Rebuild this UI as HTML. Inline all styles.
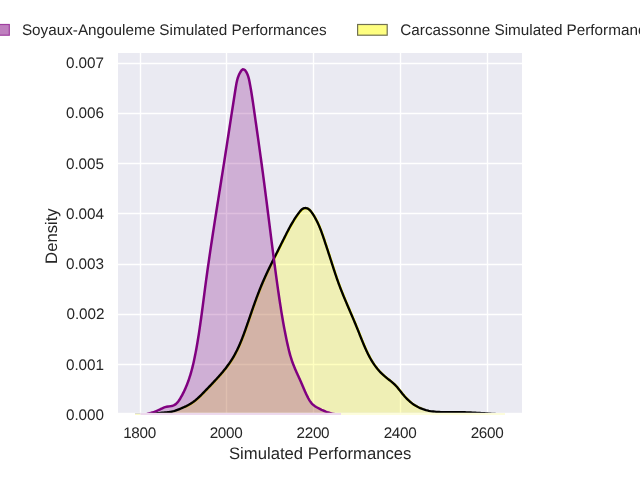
<!DOCTYPE html>
<html><head><meta charset="utf-8"><style>
html,body{margin:0;padding:0;background:#fff;width:640px;height:480px;overflow:hidden}
svg{display:block;will-change:transform}
text{font-family:"Liberation Sans",sans-serif;fill:#262626;text-rendering:geometricPrecision}
</style></head><body>
<svg width="640" height="480" viewBox="0 0 640 480">
<defs><clipPath id="fr"><rect x="118" y="53" width="404" height="355"/></clipPath><clipPath id="ax"><rect x="118" y="53" width="404" height="359.8"/></clipPath></defs>
<rect x="118" y="53" width="404" height="359.8" fill="#EAEAF2"/>
<g stroke="#fff" stroke-width="1.39" fill="none"><line x1="140.50" y1="53.00" x2="140.50" y2="412.80"/><line x1="226.50" y1="53.00" x2="226.50" y2="412.80"/><line x1="313.50" y1="53.00" x2="313.50" y2="412.80"/><line x1="400.50" y1="53.00" x2="400.50" y2="412.80"/><line x1="487.50" y1="53.00" x2="487.50" y2="412.80"/><line x1="118.00" y1="63.50" x2="522.00" y2="63.50"/><line x1="118.00" y1="113.50" x2="522.00" y2="113.50"/><line x1="118.00" y1="163.50" x2="522.00" y2="163.50"/><line x1="118.00" y1="213.50" x2="522.00" y2="213.50"/><line x1="118.00" y1="264.50" x2="522.00" y2="264.50"/><line x1="118.00" y1="314.50" x2="522.00" y2="314.50"/><line x1="118.00" y1="364.50" x2="522.00" y2="364.50"/></g>
<g clip-path="url(#ax)">
<path d="M120.00,415.60 L121.52,415.74 L123.05,415.85 L124.56,415.93 L126.08,415.98 L127.59,416.00 L129.10,416.00 L130.60,415.97 L132.10,415.92 L133.60,415.85 L135.10,415.76 L136.60,415.65 L138.09,415.53 L139.59,415.39 L141.08,415.24 L142.57,415.08 L144.06,414.91 L145.56,414.73 L147.05,414.54 L148.54,414.35 L150.03,414.16 L151.52,413.97 L153.02,413.78 L154.51,413.59 L156.01,413.40 L157.50,413.22 L159.00,413.05 L160.50,412.89 L162.01,412.74 L163.51,412.60 L165.02,412.46 L166.53,412.33 L168.03,412.18 L169.52,412.00 L171.00,411.77 L172.46,411.48 L173.89,411.13 L175.31,410.69 L176.71,410.18 L178.11,409.64 L179.51,409.08 L180.91,408.50 L182.31,407.91 L183.71,407.29 L185.10,406.65 L186.47,405.99 L187.82,405.29 L189.15,404.56 L190.44,403.78 L191.70,402.97 L192.93,402.12 L194.13,401.23 L195.30,400.30 L196.44,399.35 L197.57,398.37 L198.67,397.37 L199.76,396.34 L200.84,395.30 L201.90,394.24 L202.96,393.17 L204.01,392.10 L205.05,391.01 L206.10,389.92 L207.15,388.84 L208.20,387.75 L209.25,386.66 L210.29,385.57 L211.34,384.47 L212.38,383.38 L213.42,382.28 L214.46,381.17 L215.49,380.06 L216.52,378.95 L217.54,377.83 L218.55,376.71 L219.55,375.58 L220.55,374.44 L221.53,373.30 L222.50,372.15 L223.46,370.99 L224.41,369.82 L225.35,368.65 L226.27,367.46 L227.17,366.26 L228.06,365.06 L228.94,363.84 L229.79,362.61 L230.63,361.37 L231.45,360.12 L232.25,358.85 L233.02,357.57 L233.78,356.28 L234.52,354.98 L235.24,353.66 L235.93,352.33 L236.62,350.99 L237.28,349.65 L237.93,348.29 L238.56,346.92 L239.18,345.55 L239.79,344.17 L240.38,342.78 L240.96,341.38 L241.53,339.98 L242.09,338.58 L242.63,337.17 L243.17,335.75 L243.70,334.34 L244.23,332.92 L244.74,331.49 L245.26,330.07 L245.76,328.65 L246.26,327.23 L246.76,325.80 L247.25,324.38 L247.75,322.96 L248.24,321.54 L248.72,320.12 L249.21,318.70 L249.70,317.28 L250.18,315.86 L250.67,314.44 L251.16,313.02 L251.64,311.61 L252.13,310.19 L252.63,308.77 L253.12,307.36 L253.62,305.94 L254.12,304.52 L254.63,303.11 L255.14,301.69 L255.65,300.28 L256.17,298.86 L256.69,297.45 L257.22,296.04 L257.76,294.63 L258.29,293.22 L258.84,291.82 L259.39,290.41 L259.95,289.01 L260.51,287.61 L261.08,286.22 L261.66,284.82 L262.24,283.43 L262.83,282.05 L263.42,280.67 L264.03,279.29 L264.64,277.92 L265.26,276.55 L265.88,275.18 L266.51,273.82 L267.15,272.46 L267.79,271.10 L268.43,269.74 L269.09,268.39 L269.74,267.04 L270.40,265.69 L271.06,264.34 L271.73,262.99 L272.39,261.64 L273.06,260.29 L273.74,258.95 L274.41,257.60 L275.09,256.25 L275.76,254.90 L276.44,253.55 L277.12,252.20 L277.80,250.85 L278.47,249.50 L279.15,248.14 L279.83,246.79 L280.50,245.43 L281.18,244.08 L281.85,242.73 L282.53,241.38 L283.20,240.03 L283.88,238.69 L284.55,237.35 L285.22,236.01 L285.90,234.67 L286.57,233.34 L287.25,232.01 L287.94,230.69 L288.63,229.37 L289.33,228.05 L290.04,226.74 L290.77,225.43 L291.50,224.13 L292.26,222.83 L293.03,221.54 L293.81,220.25 L294.62,218.96 L295.45,217.68 L296.31,216.41 L297.19,215.14 L298.09,213.87 L299.03,212.61 L299.99,211.37 L301.01,210.20 L302.10,209.20 L303.28,208.46 L304.57,208.05 L305.92,208.02 L307.26,208.38 L308.54,209.06 L309.71,210.00 L310.73,211.14 L311.65,212.38 L312.53,213.64 L313.36,214.92 L314.17,216.22 L314.94,217.52 L315.67,218.85 L316.38,220.18 L317.06,221.53 L317.72,222.88 L318.35,224.25 L318.96,225.62 L319.54,227.01 L320.11,228.40 L320.66,229.80 L321.19,231.20 L321.72,232.61 L322.22,234.03 L322.72,235.45 L323.21,236.87 L323.70,238.30 L324.18,239.73 L324.65,241.16 L325.12,242.59 L325.60,244.01 L326.07,245.44 L326.54,246.87 L327.01,248.31 L327.48,249.74 L327.95,251.17 L328.41,252.60 L328.88,254.03 L329.35,255.46 L329.81,256.89 L330.27,258.32 L330.73,259.76 L331.19,261.19 L331.65,262.62 L332.11,264.05 L332.57,265.49 L333.03,266.92 L333.49,268.35 L333.96,269.78 L334.42,271.21 L334.89,272.64 L335.37,274.06 L335.84,275.49 L336.33,276.91 L336.81,278.33 L337.31,279.75 L337.81,281.17 L338.32,282.58 L338.83,284.00 L339.36,285.41 L339.89,286.81 L340.43,288.22 L340.97,289.62 L341.52,291.02 L342.08,292.42 L342.64,293.81 L343.21,295.20 L343.78,296.60 L344.36,297.99 L344.94,299.38 L345.52,300.77 L346.11,302.15 L346.70,303.54 L347.29,304.93 L347.88,306.31 L348.47,307.70 L349.07,309.08 L349.66,310.47 L350.25,311.85 L350.84,313.23 L351.44,314.62 L352.03,316.00 L352.62,317.39 L353.20,318.77 L353.79,320.16 L354.38,321.54 L354.96,322.93 L355.54,324.32 L356.11,325.71 L356.68,327.10 L357.25,328.49 L357.82,329.88 L358.38,331.27 L358.94,332.67 L359.49,334.06 L360.04,335.45 L360.60,336.85 L361.15,338.24 L361.71,339.64 L362.27,341.03 L362.84,342.42 L363.41,343.81 L364.00,345.19 L364.59,346.57 L365.19,347.95 L365.81,349.32 L366.43,350.69 L367.08,352.06 L367.74,353.42 L368.41,354.77 L369.11,356.12 L369.82,357.45 L370.56,358.78 L371.32,360.08 L372.10,361.38 L372.90,362.66 L373.73,363.91 L374.58,365.15 L375.47,366.36 L376.38,367.55 L377.31,368.72 L378.27,369.86 L379.26,370.98 L380.28,372.08 L381.32,373.15 L382.38,374.19 L383.48,375.22 L384.60,376.21 L385.75,377.18 L386.92,378.13 L388.11,379.06 L389.30,379.99 L390.49,380.92 L391.67,381.86 L392.83,382.83 L393.96,383.83 L395.04,384.87 L396.08,385.96 L397.08,387.09 L398.04,388.26 L398.99,389.44 L399.93,390.62 L400.87,391.80 L401.82,392.98 L402.77,394.14 L403.74,395.29 L404.72,396.43 L405.72,397.54 L406.75,398.63 L407.81,399.69 L408.90,400.72 L410.02,401.72 L411.19,402.67 L412.39,403.59 L413.63,404.46 L414.91,405.29 L416.22,406.07 L417.55,406.80 L418.91,407.48 L420.28,408.11 L421.68,408.69 L423.09,409.21 L424.51,409.68 L425.94,410.10 L427.39,410.47 L428.84,410.79 L430.30,411.07 L431.77,411.31 L433.25,411.51 L434.74,411.68 L436.23,411.82 L437.73,411.93 L439.23,412.01 L440.74,412.08 L442.25,412.12 L443.77,412.14 L445.28,412.16 L446.80,412.16 L448.32,412.15 L449.84,412.14 L451.36,412.13 L452.87,412.12 L454.39,412.11 L455.90,412.11 L457.41,412.12 L458.92,412.13 L460.43,412.15 L461.93,412.18 L463.43,412.22 L464.93,412.26 L466.43,412.31 L467.92,412.37 L469.42,412.43 L470.91,412.49 L472.41,412.56 L473.90,412.64 L475.39,412.72 L476.89,412.80 L478.38,412.89 L479.87,412.98 L481.37,413.07 L482.86,413.17 L484.36,413.27 L485.86,413.37 L487.36,413.48 L488.86,413.58 L490.36,413.69 L491.86,413.80 L493.37,413.90 L494.88,414.01 L496.38,414.11 L497.89,414.21 L499.40,414.31 L500.91,414.40 L502.42,414.49 L503.93,414.57 L505.44,414.64 L506.95,414.71 L508.46,414.77 L509.96,414.82 L511.47,414.86 L512.98,414.89 L514.49,414.91 L515.99,414.91 L517.50,414.91 L519.00,414.89 L520.50,414.85 L522.00,414.80 L523.50,414.74 L525.00,414.66 L525.00,417.70 L120.00,417.70 Z" fill="#ffff00" fill-opacity="0.25" stroke="none"/>
<path clip-path="url(#fr)" d="M120.00,415.60 L121.52,415.74 L123.05,415.85 L124.56,415.93 L126.08,415.98 L127.59,416.00 L129.10,416.00 L130.60,415.97 L132.10,415.92 L133.60,415.85 L135.10,415.76 L136.60,415.65 L138.09,415.53 L139.59,415.39 L141.08,415.24 L142.57,415.08 L144.06,414.91 L145.56,414.73 L147.05,414.54 L148.54,414.35 L150.03,414.16 L151.52,413.97 L153.02,413.78 L154.51,413.59 L156.01,413.40 L157.50,413.22 L159.00,413.05 L160.50,412.89 L162.01,412.74 L163.51,412.60 L165.02,412.46 L166.53,412.33 L168.03,412.18 L169.52,412.00 L171.00,411.77 L172.46,411.48 L173.89,411.13 L175.31,410.69 L176.71,410.18 L178.11,409.64 L179.51,409.08 L180.91,408.50 L182.31,407.91 L183.71,407.29 L185.10,406.65 L186.47,405.99 L187.82,405.29 L189.15,404.56 L190.44,403.78 L191.70,402.97 L192.93,402.12 L194.13,401.23 L195.30,400.30 L196.44,399.35 L197.57,398.37 L198.67,397.37 L199.76,396.34 L200.84,395.30 L201.90,394.24 L202.96,393.17 L204.01,392.10 L205.05,391.01 L206.10,389.92 L207.15,388.84 L208.20,387.75 L209.25,386.66 L210.29,385.57 L211.34,384.47 L212.38,383.38 L213.42,382.28 L214.46,381.17 L215.49,380.06 L216.52,378.95 L217.54,377.83 L218.55,376.71 L219.55,375.58 L220.55,374.44 L221.53,373.30 L222.50,372.15 L223.46,370.99 L224.41,369.82 L225.35,368.65 L226.27,367.46 L227.17,366.26 L228.06,365.06 L228.94,363.84 L229.79,362.61 L230.63,361.37 L231.45,360.12 L232.25,358.85 L233.02,357.57 L233.78,356.28 L234.52,354.98 L235.24,353.66 L235.93,352.33 L236.62,350.99 L237.28,349.65 L237.93,348.29 L238.56,346.92 L239.18,345.55 L239.79,344.17 L240.38,342.78 L240.96,341.38 L241.53,339.98 L242.09,338.58 L242.63,337.17 L243.17,335.75 L243.70,334.34 L244.23,332.92 L244.74,331.49 L245.26,330.07 L245.76,328.65 L246.26,327.23 L246.76,325.80 L247.25,324.38 L247.75,322.96 L248.24,321.54 L248.72,320.12 L249.21,318.70 L249.70,317.28 L250.18,315.86 L250.67,314.44 L251.16,313.02 L251.64,311.61 L252.13,310.19 L252.63,308.77 L253.12,307.36 L253.62,305.94 L254.12,304.52 L254.63,303.11 L255.14,301.69 L255.65,300.28 L256.17,298.86 L256.69,297.45 L257.22,296.04 L257.76,294.63 L258.29,293.22 L258.84,291.82 L259.39,290.41 L259.95,289.01 L260.51,287.61 L261.08,286.22 L261.66,284.82 L262.24,283.43 L262.83,282.05 L263.42,280.67 L264.03,279.29 L264.64,277.92 L265.26,276.55 L265.88,275.18 L266.51,273.82 L267.15,272.46 L267.79,271.10 L268.43,269.74 L269.09,268.39 L269.74,267.04 L270.40,265.69 L271.06,264.34 L271.73,262.99 L272.39,261.64 L273.06,260.29 L273.74,258.95 L274.41,257.60 L275.09,256.25 L275.76,254.90 L276.44,253.55 L277.12,252.20 L277.80,250.85 L278.47,249.50 L279.15,248.14 L279.83,246.79 L280.50,245.43 L281.18,244.08 L281.85,242.73 L282.53,241.38 L283.20,240.03 L283.88,238.69 L284.55,237.35 L285.22,236.01 L285.90,234.67 L286.57,233.34 L287.25,232.01 L287.94,230.69 L288.63,229.37 L289.33,228.05 L290.04,226.74 L290.77,225.43 L291.50,224.13 L292.26,222.83 L293.03,221.54 L293.81,220.25 L294.62,218.96 L295.45,217.68 L296.31,216.41 L297.19,215.14 L298.09,213.87 L299.03,212.61 L299.99,211.37 L301.01,210.20 L302.10,209.20 L303.28,208.46 L304.57,208.05 L305.92,208.02 L307.26,208.38 L308.54,209.06 L309.71,210.00 L310.73,211.14 L311.65,212.38 L312.53,213.64 L313.36,214.92 L314.17,216.22 L314.94,217.52 L315.67,218.85 L316.38,220.18 L317.06,221.53 L317.72,222.88 L318.35,224.25 L318.96,225.62 L319.54,227.01 L320.11,228.40 L320.66,229.80 L321.19,231.20 L321.72,232.61 L322.22,234.03 L322.72,235.45 L323.21,236.87 L323.70,238.30 L324.18,239.73 L324.65,241.16 L325.12,242.59 L325.60,244.01 L326.07,245.44 L326.54,246.87 L327.01,248.31 L327.48,249.74 L327.95,251.17 L328.41,252.60 L328.88,254.03 L329.35,255.46 L329.81,256.89 L330.27,258.32 L330.73,259.76 L331.19,261.19 L331.65,262.62 L332.11,264.05 L332.57,265.49 L333.03,266.92 L333.49,268.35 L333.96,269.78 L334.42,271.21 L334.89,272.64 L335.37,274.06 L335.84,275.49 L336.33,276.91 L336.81,278.33 L337.31,279.75 L337.81,281.17 L338.32,282.58 L338.83,284.00 L339.36,285.41 L339.89,286.81 L340.43,288.22 L340.97,289.62 L341.52,291.02 L342.08,292.42 L342.64,293.81 L343.21,295.20 L343.78,296.60 L344.36,297.99 L344.94,299.38 L345.52,300.77 L346.11,302.15 L346.70,303.54 L347.29,304.93 L347.88,306.31 L348.47,307.70 L349.07,309.08 L349.66,310.47 L350.25,311.85 L350.84,313.23 L351.44,314.62 L352.03,316.00 L352.62,317.39 L353.20,318.77 L353.79,320.16 L354.38,321.54 L354.96,322.93 L355.54,324.32 L356.11,325.71 L356.68,327.10 L357.25,328.49 L357.82,329.88 L358.38,331.27 L358.94,332.67 L359.49,334.06 L360.04,335.45 L360.60,336.85 L361.15,338.24 L361.71,339.64 L362.27,341.03 L362.84,342.42 L363.41,343.81 L364.00,345.19 L364.59,346.57 L365.19,347.95 L365.81,349.32 L366.43,350.69 L367.08,352.06 L367.74,353.42 L368.41,354.77 L369.11,356.12 L369.82,357.45 L370.56,358.78 L371.32,360.08 L372.10,361.38 L372.90,362.66 L373.73,363.91 L374.58,365.15 L375.47,366.36 L376.38,367.55 L377.31,368.72 L378.27,369.86 L379.26,370.98 L380.28,372.08 L381.32,373.15 L382.38,374.19 L383.48,375.22 L384.60,376.21 L385.75,377.18 L386.92,378.13 L388.11,379.06 L389.30,379.99 L390.49,380.92 L391.67,381.86 L392.83,382.83 L393.96,383.83 L395.04,384.87 L396.08,385.96 L397.08,387.09 L398.04,388.26 L398.99,389.44 L399.93,390.62 L400.87,391.80 L401.82,392.98 L402.77,394.14 L403.74,395.29 L404.72,396.43 L405.72,397.54 L406.75,398.63 L407.81,399.69 L408.90,400.72 L410.02,401.72 L411.19,402.67 L412.39,403.59 L413.63,404.46 L414.91,405.29 L416.22,406.07 L417.55,406.80 L418.91,407.48 L420.28,408.11 L421.68,408.69 L423.09,409.21 L424.51,409.68 L425.94,410.10 L427.39,410.47 L428.84,410.79 L430.30,411.07 L431.77,411.31 L433.25,411.51 L434.74,411.68 L436.23,411.82 L437.73,411.93 L439.23,412.01 L440.74,412.08 L442.25,412.12 L443.77,412.14 L445.28,412.16 L446.80,412.16 L448.32,412.15 L449.84,412.14 L451.36,412.13 L452.87,412.12 L454.39,412.11 L455.90,412.11 L457.41,412.12 L458.92,412.13 L460.43,412.15 L461.93,412.18 L463.43,412.22 L464.93,412.26 L466.43,412.31 L467.92,412.37 L469.42,412.43 L470.91,412.49 L472.41,412.56 L473.90,412.64 L475.39,412.72 L476.89,412.80 L478.38,412.89 L479.87,412.98 L481.37,413.07 L482.86,413.17 L484.36,413.27 L485.86,413.37 L487.36,413.48 L488.86,413.58 L490.36,413.69 L491.86,413.80 L493.37,413.90 L494.88,414.01 L496.38,414.11 L497.89,414.21 L499.40,414.31 L500.91,414.40 L502.42,414.49 L503.93,414.57 L505.44,414.64 L506.95,414.71 L508.46,414.77 L509.96,414.82 L511.47,414.86 L512.98,414.89 L514.49,414.91 L515.99,414.91 L517.50,414.91 L519.00,414.89 L520.50,414.85 L522.00,414.80 L523.50,414.74 L525.00,414.66" fill="none" stroke="#ffff00" stroke-width="2.35" stroke-linejoin="round" transform="translate(0.3,0.2)"/>
<path d="M120.00,415.56 L121.49,415.66 L122.99,415.75 L124.49,415.81 L125.99,415.85 L127.50,415.87 L129.01,415.87 L130.52,415.85 L132.03,415.80 L133.54,415.73 L135.04,415.64 L136.55,415.52 L138.05,415.38 L139.55,415.20 L141.05,415.00 L142.54,414.78 L144.02,414.52 L145.49,414.23 L146.96,413.92 L148.42,413.57 L149.86,413.19 L151.30,412.78 L152.73,412.33 L154.14,411.86 L155.54,411.34 L156.92,410.79 L158.29,410.21 L159.64,409.59 L160.98,408.93 L162.32,408.27 L163.68,407.66 L165.11,407.13 L166.60,406.75 L168.18,406.50 L169.78,406.31 L171.34,406.08 L172.82,405.72 L174.16,405.16 L175.37,404.41 L176.48,403.50 L177.48,402.45 L178.40,401.29 L179.26,400.06 L180.07,398.77 L180.84,397.45 L181.59,396.12 L182.31,394.79 L183.01,393.44 L183.69,392.09 L184.34,390.73 L184.97,389.36 L185.58,387.98 L186.17,386.60 L186.74,385.21 L187.29,383.81 L187.82,382.41 L188.33,381.00 L188.83,379.58 L189.31,378.16 L189.77,376.73 L190.22,375.30 L190.65,373.86 L191.07,372.42 L191.47,370.97 L191.86,369.52 L192.24,368.07 L192.61,366.61 L192.96,365.15 L193.31,363.69 L193.64,362.22 L193.97,360.75 L194.28,359.28 L194.59,357.80 L194.89,356.33 L195.19,354.85 L195.48,353.37 L195.76,351.89 L196.04,350.41 L196.31,348.93 L196.58,347.45 L196.84,345.97 L197.10,344.49 L197.36,343.01 L197.61,341.52 L197.85,340.04 L198.10,338.55 L198.34,337.07 L198.57,335.58 L198.81,334.10 L199.04,332.61 L199.26,331.12 L199.48,329.64 L199.71,328.15 L199.92,326.66 L200.14,325.17 L200.35,323.68 L200.56,322.19 L200.77,320.70 L200.98,319.21 L201.18,317.72 L201.38,316.23 L201.59,314.74 L201.79,313.25 L201.98,311.76 L202.18,310.27 L202.38,308.78 L202.57,307.29 L202.77,305.80 L202.96,304.31 L203.16,302.81 L203.35,301.32 L203.54,299.83 L203.73,298.34 L203.93,296.85 L204.12,295.36 L204.31,293.86 L204.51,292.37 L204.70,290.88 L204.90,289.39 L205.09,287.90 L205.29,286.41 L205.49,284.91 L205.69,283.42 L205.89,281.93 L206.09,280.44 L206.30,278.95 L206.50,277.46 L206.70,275.97 L206.91,274.48 L207.12,272.99 L207.32,271.50 L207.53,270.01 L207.74,268.52 L207.95,267.03 L208.17,265.54 L208.38,264.05 L208.59,262.56 L208.81,261.07 L209.02,259.58 L209.24,258.09 L209.46,256.60 L209.67,255.11 L209.89,253.62 L210.11,252.14 L210.33,250.65 L210.55,249.16 L210.77,247.67 L211.00,246.18 L211.22,244.69 L211.44,243.20 L211.67,241.72 L211.89,240.23 L212.12,238.74 L212.34,237.25 L212.57,235.77 L212.80,234.28 L213.02,232.79 L213.25,231.30 L213.48,229.82 L213.71,228.33 L213.94,226.84 L214.17,225.35 L214.40,223.87 L214.63,222.38 L214.86,220.89 L215.09,219.41 L215.33,217.92 L215.56,216.43 L215.79,214.95 L216.03,213.46 L216.26,211.97 L216.49,210.49 L216.73,209.00 L216.96,207.51 L217.20,206.03 L217.43,204.54 L217.67,203.05 L217.90,201.57 L218.14,200.08 L218.37,198.60 L218.61,197.11 L218.84,195.62 L219.08,194.14 L219.31,192.65 L219.55,191.17 L219.79,189.68 L220.02,188.20 L220.26,186.71 L220.49,185.22 L220.73,183.74 L220.97,182.25 L221.20,180.77 L221.44,179.28 L221.67,177.80 L221.91,176.31 L222.15,174.83 L222.38,173.34 L222.62,171.86 L222.85,170.37 L223.09,168.88 L223.32,167.40 L223.56,165.91 L223.79,164.43 L224.02,162.94 L224.26,161.46 L224.49,159.97 L224.72,158.49 L224.96,157.00 L225.19,155.52 L225.42,154.03 L225.65,152.55 L225.88,151.06 L226.11,149.58 L226.35,148.09 L226.58,146.61 L226.81,145.12 L227.04,143.64 L227.27,142.15 L227.49,140.67 L227.72,139.18 L227.95,137.70 L228.18,136.21 L228.41,134.73 L228.64,133.24 L228.87,131.75 L229.10,130.27 L229.33,128.78 L229.56,127.30 L229.79,125.81 L230.01,124.32 L230.24,122.84 L230.47,121.35 L230.70,119.86 L230.93,118.37 L231.16,116.89 L231.39,115.40 L231.62,113.91 L231.85,112.42 L232.08,110.93 L232.31,109.44 L232.54,107.95 L232.78,106.46 L233.01,104.97 L233.24,103.48 L233.47,101.99 L233.71,100.50 L233.94,99.01 L234.17,97.52 L234.41,96.03 L234.64,94.54 L234.88,93.04 L235.11,91.55 L235.35,90.06 L235.59,88.56 L235.83,87.07 L236.07,85.58 L236.33,84.09 L236.62,82.61 L236.93,81.15 L237.29,79.69 L237.70,78.26 L238.16,76.85 L238.69,75.47 L239.29,74.11 L239.97,72.78 L240.74,71.49 L241.61,70.25 L242.64,69.37 L243.88,69.42 L245.12,70.35 L246.11,71.64 L246.88,73.05 L247.51,74.49 L248.04,75.93 L248.49,77.38 L248.88,78.83 L249.21,80.29 L249.51,81.75 L249.79,83.21 L250.06,84.67 L250.33,86.14 L250.59,87.61 L250.84,89.08 L251.09,90.56 L251.34,92.04 L251.58,93.52 L251.81,95.00 L252.05,96.48 L252.28,97.96 L252.50,99.45 L252.73,100.94 L252.95,102.42 L253.17,103.91 L253.38,105.40 L253.60,106.89 L253.81,108.38 L254.03,109.87 L254.24,111.36 L254.45,112.86 L254.66,114.35 L254.88,115.84 L255.09,117.33 L255.30,118.82 L255.51,120.31 L255.72,121.80 L255.94,123.29 L256.15,124.78 L256.36,126.27 L256.57,127.76 L256.78,129.25 L256.99,130.74 L257.21,132.23 L257.42,133.72 L257.63,135.21 L257.84,136.70 L258.05,138.19 L258.26,139.68 L258.47,141.16 L258.68,142.65 L258.88,144.14 L259.09,145.63 L259.30,147.12 L259.51,148.61 L259.72,150.10 L259.92,151.59 L260.13,153.08 L260.34,154.57 L260.54,156.06 L260.75,157.55 L260.95,159.04 L261.16,160.53 L261.36,162.02 L261.57,163.51 L261.77,165.00 L261.97,166.49 L262.17,167.98 L262.38,169.47 L262.58,170.96 L262.78,172.45 L262.98,173.94 L263.17,175.43 L263.37,176.92 L263.57,178.41 L263.77,179.90 L263.96,181.39 L264.16,182.88 L264.35,184.37 L264.55,185.86 L264.74,187.36 L264.94,188.85 L265.13,190.34 L265.32,191.83 L265.51,193.32 L265.70,194.81 L265.90,196.31 L266.09,197.80 L266.28,199.29 L266.47,200.78 L266.66,202.28 L266.85,203.77 L267.04,205.26 L267.23,206.75 L267.41,208.25 L267.60,209.74 L267.79,211.23 L267.98,212.73 L268.17,214.22 L268.36,215.71 L268.54,217.20 L268.73,218.70 L268.92,220.19 L269.11,221.68 L269.30,223.18 L269.49,224.67 L269.67,226.16 L269.86,227.66 L270.05,229.15 L270.24,230.64 L270.43,232.13 L270.62,233.63 L270.80,235.12 L270.99,236.61 L271.18,238.11 L271.37,239.60 L271.56,241.09 L271.75,242.58 L271.94,244.08 L272.13,245.57 L272.33,247.06 L272.52,248.56 L272.71,250.05 L272.90,251.54 L273.10,253.03 L273.29,254.52 L273.48,256.02 L273.68,257.51 L273.87,259.00 L274.07,260.49 L274.26,261.98 L274.46,263.48 L274.66,264.97 L274.86,266.46 L275.06,267.95 L275.26,269.44 L275.46,270.93 L275.66,272.42 L275.86,273.91 L276.06,275.41 L276.27,276.90 L276.47,278.39 L276.68,279.88 L276.88,281.37 L277.09,282.86 L277.30,284.35 L277.51,285.84 L277.72,287.32 L277.93,288.81 L278.14,290.30 L278.35,291.79 L278.57,293.28 L278.79,294.77 L279.00,296.26 L279.22,297.74 L279.44,299.23 L279.67,300.72 L279.89,302.21 L280.12,303.69 L280.34,305.18 L280.58,306.66 L280.81,308.15 L281.04,309.63 L281.28,311.12 L281.52,312.60 L281.77,314.09 L282.01,315.57 L282.26,317.05 L282.52,318.53 L282.77,320.02 L283.03,321.50 L283.29,322.98 L283.56,324.46 L283.83,325.94 L284.10,327.42 L284.38,328.89 L284.66,330.37 L284.95,331.85 L285.24,333.32 L285.53,334.80 L285.83,336.27 L286.13,337.75 L286.44,339.22 L286.75,340.69 L287.07,342.17 L287.39,343.64 L287.72,345.11 L288.05,346.58 L288.39,348.04 L288.73,349.51 L289.09,350.97 L289.46,352.43 L289.84,353.88 L290.25,355.33 L290.67,356.77 L291.11,358.20 L291.57,359.63 L292.05,361.05 L292.55,362.46 L293.07,363.86 L293.61,365.26 L294.16,366.66 L294.73,368.05 L295.32,369.43 L295.92,370.82 L296.53,372.20 L297.15,373.57 L297.78,374.95 L298.41,376.32 L299.03,377.69 L299.66,379.06 L300.28,380.44 L300.89,381.81 L301.48,383.19 L302.07,384.56 L302.66,385.94 L303.24,387.32 L303.82,388.69 L304.42,390.07 L305.02,391.44 L305.63,392.81 L306.26,394.18 L306.92,395.54 L307.60,396.90 L308.31,398.26 L309.05,399.60 L309.84,400.91 L310.70,402.15 L311.64,403.32 L312.67,404.39 L313.79,405.35 L315.00,406.21 L316.26,407.00 L317.57,407.73 L318.90,408.44 L320.25,409.12 L321.62,409.78 L322.99,410.40 L324.39,411.00 L325.79,411.55 L327.21,412.07 L328.64,412.55 L330.08,412.98 L331.53,413.37 L332.99,413.70 L334.46,413.99 L335.94,414.22 L337.43,414.40 L338.92,414.54 L340.42,414.64 L341.92,414.71 L343.42,414.75 L344.93,414.76 L346.45,414.76 L347.96,414.74 L349.47,414.72 L350.98,414.69 L352.49,414.66 L354.00,414.64 L355.51,414.62 L357.01,414.63 L358.51,414.65 L360.00,414.70 L360.00,417.70 L120.00,417.70 Z" fill="#800080" fill-opacity="0.25" stroke="none"/>
<path d="M120.00,415.60 L121.52,415.74 L123.05,415.85 L124.56,415.93 L126.08,415.98 L127.59,416.00 L129.10,416.00 L130.60,415.97 L132.10,415.92 L133.60,415.85 L135.10,415.76 L136.60,415.65 L138.09,415.53 L139.59,415.39 L141.08,415.24 L142.57,415.08 L144.06,414.91 L145.56,414.73 L147.05,414.54 L148.54,414.35 L150.03,414.16 L151.52,413.97 L153.02,413.78 L154.51,413.59 L156.01,413.40 L157.50,413.22 L159.00,413.05 L160.50,412.89 L162.01,412.74 L163.51,412.60 L165.02,412.46 L166.53,412.33 L168.03,412.18 L169.52,412.00 L171.00,411.77 L172.46,411.48 L173.89,411.13 L175.31,410.69 L176.71,410.18 L178.11,409.64 L179.51,409.08 L180.91,408.50 L182.31,407.91 L183.71,407.29 L185.10,406.65 L186.47,405.99 L187.82,405.29 L189.15,404.56 L190.44,403.78 L191.70,402.97 L192.93,402.12 L194.13,401.23 L195.30,400.30 L196.44,399.35 L197.57,398.37 L198.67,397.37 L199.76,396.34 L200.84,395.30 L201.90,394.24 L202.96,393.17 L204.01,392.10 L205.05,391.01 L206.10,389.92 L207.15,388.84 L208.20,387.75 L209.25,386.66 L210.29,385.57 L211.34,384.47 L212.38,383.38 L213.42,382.28 L214.46,381.17 L215.49,380.06 L216.52,378.95 L217.54,377.83 L218.55,376.71 L219.55,375.58 L220.55,374.44 L221.53,373.30 L222.50,372.15 L223.46,370.99 L224.41,369.82 L225.35,368.65 L226.27,367.46 L227.17,366.26 L228.06,365.06 L228.94,363.84 L229.79,362.61 L230.63,361.37 L231.45,360.12 L232.25,358.85 L233.02,357.57 L233.78,356.28 L234.52,354.98 L235.24,353.66 L235.93,352.33 L236.62,350.99 L237.28,349.65 L237.93,348.29 L238.56,346.92 L239.18,345.55 L239.79,344.17 L240.38,342.78 L240.96,341.38 L241.53,339.98 L242.09,338.58 L242.63,337.17 L243.17,335.75 L243.70,334.34 L244.23,332.92 L244.74,331.49 L245.26,330.07 L245.76,328.65 L246.26,327.23 L246.76,325.80 L247.25,324.38 L247.75,322.96 L248.24,321.54 L248.72,320.12 L249.21,318.70 L249.70,317.28 L250.18,315.86 L250.67,314.44 L251.16,313.02 L251.64,311.61 L252.13,310.19 L252.63,308.77 L253.12,307.36 L253.62,305.94 L254.12,304.52 L254.63,303.11 L255.14,301.69 L255.65,300.28 L256.17,298.86 L256.69,297.45 L257.22,296.04 L257.76,294.63 L258.29,293.22 L258.84,291.82 L259.39,290.41 L259.95,289.01 L260.51,287.61 L261.08,286.22 L261.66,284.82 L262.24,283.43 L262.83,282.05 L263.42,280.67 L264.03,279.29 L264.64,277.92 L265.26,276.55 L265.88,275.18 L266.51,273.82 L267.15,272.46 L267.79,271.10 L268.43,269.74 L269.09,268.39 L269.74,267.04 L270.40,265.69 L271.06,264.34 L271.73,262.99 L272.39,261.64 L273.06,260.29 L273.74,258.95 L274.41,257.60 L275.09,256.25 L275.76,254.90 L276.44,253.55 L277.12,252.20 L277.80,250.85 L278.47,249.50 L279.15,248.14 L279.83,246.79 L280.50,245.43 L281.18,244.08 L281.85,242.73 L282.53,241.38 L283.20,240.03 L283.88,238.69 L284.55,237.35 L285.22,236.01 L285.90,234.67 L286.57,233.34 L287.25,232.01 L287.94,230.69 L288.63,229.37 L289.33,228.05 L290.04,226.74 L290.77,225.43 L291.50,224.13 L292.26,222.83 L293.03,221.54 L293.81,220.25 L294.62,218.96 L295.45,217.68 L296.31,216.41 L297.19,215.14 L298.09,213.87 L299.03,212.61 L299.99,211.37 L301.01,210.20 L302.10,209.20 L303.28,208.46 L304.57,208.05 L305.92,208.02 L307.26,208.38 L308.54,209.06 L309.71,210.00 L310.73,211.14 L311.65,212.38 L312.53,213.64 L313.36,214.92 L314.17,216.22 L314.94,217.52 L315.67,218.85 L316.38,220.18 L317.06,221.53 L317.72,222.88 L318.35,224.25 L318.96,225.62 L319.54,227.01 L320.11,228.40 L320.66,229.80 L321.19,231.20 L321.72,232.61 L322.22,234.03 L322.72,235.45 L323.21,236.87 L323.70,238.30 L324.18,239.73 L324.65,241.16 L325.12,242.59 L325.60,244.01 L326.07,245.44 L326.54,246.87 L327.01,248.31 L327.48,249.74 L327.95,251.17 L328.41,252.60 L328.88,254.03 L329.35,255.46 L329.81,256.89 L330.27,258.32 L330.73,259.76 L331.19,261.19 L331.65,262.62 L332.11,264.05 L332.57,265.49 L333.03,266.92 L333.49,268.35 L333.96,269.78 L334.42,271.21 L334.89,272.64 L335.37,274.06 L335.84,275.49 L336.33,276.91 L336.81,278.33 L337.31,279.75 L337.81,281.17 L338.32,282.58 L338.83,284.00 L339.36,285.41 L339.89,286.81 L340.43,288.22 L340.97,289.62 L341.52,291.02 L342.08,292.42 L342.64,293.81 L343.21,295.20 L343.78,296.60 L344.36,297.99 L344.94,299.38 L345.52,300.77 L346.11,302.15 L346.70,303.54 L347.29,304.93 L347.88,306.31 L348.47,307.70 L349.07,309.08 L349.66,310.47 L350.25,311.85 L350.84,313.23 L351.44,314.62 L352.03,316.00 L352.62,317.39 L353.20,318.77 L353.79,320.16 L354.38,321.54 L354.96,322.93 L355.54,324.32 L356.11,325.71 L356.68,327.10 L357.25,328.49 L357.82,329.88 L358.38,331.27 L358.94,332.67 L359.49,334.06 L360.04,335.45 L360.60,336.85 L361.15,338.24 L361.71,339.64 L362.27,341.03 L362.84,342.42 L363.41,343.81 L364.00,345.19 L364.59,346.57 L365.19,347.95 L365.81,349.32 L366.43,350.69 L367.08,352.06 L367.74,353.42 L368.41,354.77 L369.11,356.12 L369.82,357.45 L370.56,358.78 L371.32,360.08 L372.10,361.38 L372.90,362.66 L373.73,363.91 L374.58,365.15 L375.47,366.36 L376.38,367.55 L377.31,368.72 L378.27,369.86 L379.26,370.98 L380.28,372.08 L381.32,373.15 L382.38,374.19 L383.48,375.22 L384.60,376.21 L385.75,377.18 L386.92,378.13 L388.11,379.06 L389.30,379.99 L390.49,380.92 L391.67,381.86 L392.83,382.83 L393.96,383.83 L395.04,384.87 L396.08,385.96 L397.08,387.09 L398.04,388.26 L398.99,389.44 L399.93,390.62 L400.87,391.80 L401.82,392.98 L402.77,394.14 L403.74,395.29 L404.72,396.43 L405.72,397.54 L406.75,398.63 L407.81,399.69 L408.90,400.72 L410.02,401.72 L411.19,402.67 L412.39,403.59 L413.63,404.46 L414.91,405.29 L416.22,406.07 L417.55,406.80 L418.91,407.48 L420.28,408.11 L421.68,408.69 L423.09,409.21 L424.51,409.68 L425.94,410.10 L427.39,410.47 L428.84,410.79 L430.30,411.07 L431.77,411.31 L433.25,411.51 L434.74,411.68 L436.23,411.82 L437.73,411.93 L439.23,412.01 L440.74,412.08 L442.25,412.12 L443.77,412.14 L445.28,412.16 L446.80,412.16 L448.32,412.15 L449.84,412.14 L451.36,412.13 L452.87,412.12 L454.39,412.11 L455.90,412.11 L457.41,412.12 L458.92,412.13 L460.43,412.15 L461.93,412.18 L463.43,412.22 L464.93,412.26 L466.43,412.31 L467.92,412.37 L469.42,412.43 L470.91,412.49 L472.41,412.56 L473.90,412.64 L475.39,412.72 L476.89,412.80 L478.38,412.89 L479.87,412.98 L481.37,413.07 L482.86,413.17 L484.36,413.27 L485.86,413.37 L487.36,413.48 L488.86,413.58 L490.36,413.69 L491.86,413.80 L493.37,413.90 L494.88,414.01 L496.38,414.11 L497.89,414.21 L499.40,414.31 L500.91,414.40 L502.42,414.49 L503.93,414.57 L505.44,414.64 L506.95,414.71 L508.46,414.77 L509.96,414.82 L511.47,414.86 L512.98,414.89 L514.49,414.91 L515.99,414.91 L517.50,414.91 L519.00,414.89 L520.50,414.85 L522.00,414.80 L523.50,414.74 L525.00,414.66" fill="none" stroke="#000" stroke-width="2.35" stroke-linejoin="round"/>
<path d="M120.00,415.56 L121.49,415.66 L122.99,415.75 L124.49,415.81 L125.99,415.85 L127.50,415.87 L129.01,415.87 L130.52,415.85 L132.03,415.80 L133.54,415.73 L135.04,415.64 L136.55,415.52 L138.05,415.38 L139.55,415.20 L141.05,415.00 L142.54,414.78 L144.02,414.52 L145.49,414.23 L146.96,413.92 L148.42,413.57 L149.86,413.19 L151.30,412.78 L152.73,412.33 L154.14,411.86 L155.54,411.34 L156.92,410.79 L158.29,410.21 L159.64,409.59 L160.98,408.93 L162.32,408.27 L163.68,407.66 L165.11,407.13 L166.60,406.75 L168.18,406.50 L169.78,406.31 L171.34,406.08 L172.82,405.72 L174.16,405.16 L175.37,404.41 L176.48,403.50 L177.48,402.45 L178.40,401.29 L179.26,400.06 L180.07,398.77 L180.84,397.45 L181.59,396.12 L182.31,394.79 L183.01,393.44 L183.69,392.09 L184.34,390.73 L184.97,389.36 L185.58,387.98 L186.17,386.60 L186.74,385.21 L187.29,383.81 L187.82,382.41 L188.33,381.00 L188.83,379.58 L189.31,378.16 L189.77,376.73 L190.22,375.30 L190.65,373.86 L191.07,372.42 L191.47,370.97 L191.86,369.52 L192.24,368.07 L192.61,366.61 L192.96,365.15 L193.31,363.69 L193.64,362.22 L193.97,360.75 L194.28,359.28 L194.59,357.80 L194.89,356.33 L195.19,354.85 L195.48,353.37 L195.76,351.89 L196.04,350.41 L196.31,348.93 L196.58,347.45 L196.84,345.97 L197.10,344.49 L197.36,343.01 L197.61,341.52 L197.85,340.04 L198.10,338.55 L198.34,337.07 L198.57,335.58 L198.81,334.10 L199.04,332.61 L199.26,331.12 L199.48,329.64 L199.71,328.15 L199.92,326.66 L200.14,325.17 L200.35,323.68 L200.56,322.19 L200.77,320.70 L200.98,319.21 L201.18,317.72 L201.38,316.23 L201.59,314.74 L201.79,313.25 L201.98,311.76 L202.18,310.27 L202.38,308.78 L202.57,307.29 L202.77,305.80 L202.96,304.31 L203.16,302.81 L203.35,301.32 L203.54,299.83 L203.73,298.34 L203.93,296.85 L204.12,295.36 L204.31,293.86 L204.51,292.37 L204.70,290.88 L204.90,289.39 L205.09,287.90 L205.29,286.41 L205.49,284.91 L205.69,283.42 L205.89,281.93 L206.09,280.44 L206.30,278.95 L206.50,277.46 L206.70,275.97 L206.91,274.48 L207.12,272.99 L207.32,271.50 L207.53,270.01 L207.74,268.52 L207.95,267.03 L208.17,265.54 L208.38,264.05 L208.59,262.56 L208.81,261.07 L209.02,259.58 L209.24,258.09 L209.46,256.60 L209.67,255.11 L209.89,253.62 L210.11,252.14 L210.33,250.65 L210.55,249.16 L210.77,247.67 L211.00,246.18 L211.22,244.69 L211.44,243.20 L211.67,241.72 L211.89,240.23 L212.12,238.74 L212.34,237.25 L212.57,235.77 L212.80,234.28 L213.02,232.79 L213.25,231.30 L213.48,229.82 L213.71,228.33 L213.94,226.84 L214.17,225.35 L214.40,223.87 L214.63,222.38 L214.86,220.89 L215.09,219.41 L215.33,217.92 L215.56,216.43 L215.79,214.95 L216.03,213.46 L216.26,211.97 L216.49,210.49 L216.73,209.00 L216.96,207.51 L217.20,206.03 L217.43,204.54 L217.67,203.05 L217.90,201.57 L218.14,200.08 L218.37,198.60 L218.61,197.11 L218.84,195.62 L219.08,194.14 L219.31,192.65 L219.55,191.17 L219.79,189.68 L220.02,188.20 L220.26,186.71 L220.49,185.22 L220.73,183.74 L220.97,182.25 L221.20,180.77 L221.44,179.28 L221.67,177.80 L221.91,176.31 L222.15,174.83 L222.38,173.34 L222.62,171.86 L222.85,170.37 L223.09,168.88 L223.32,167.40 L223.56,165.91 L223.79,164.43 L224.02,162.94 L224.26,161.46 L224.49,159.97 L224.72,158.49 L224.96,157.00 L225.19,155.52 L225.42,154.03 L225.65,152.55 L225.88,151.06 L226.11,149.58 L226.35,148.09 L226.58,146.61 L226.81,145.12 L227.04,143.64 L227.27,142.15 L227.49,140.67 L227.72,139.18 L227.95,137.70 L228.18,136.21 L228.41,134.73 L228.64,133.24 L228.87,131.75 L229.10,130.27 L229.33,128.78 L229.56,127.30 L229.79,125.81 L230.01,124.32 L230.24,122.84 L230.47,121.35 L230.70,119.86 L230.93,118.37 L231.16,116.89 L231.39,115.40 L231.62,113.91 L231.85,112.42 L232.08,110.93 L232.31,109.44 L232.54,107.95 L232.78,106.46 L233.01,104.97 L233.24,103.48 L233.47,101.99 L233.71,100.50 L233.94,99.01 L234.17,97.52 L234.41,96.03 L234.64,94.54 L234.88,93.04 L235.11,91.55 L235.35,90.06 L235.59,88.56 L235.83,87.07 L236.07,85.58 L236.33,84.09 L236.62,82.61 L236.93,81.15 L237.29,79.69 L237.70,78.26 L238.16,76.85 L238.69,75.47 L239.29,74.11 L239.97,72.78 L240.74,71.49 L241.61,70.25 L242.64,69.37 L243.88,69.42 L245.12,70.35 L246.11,71.64 L246.88,73.05 L247.51,74.49 L248.04,75.93 L248.49,77.38 L248.88,78.83 L249.21,80.29 L249.51,81.75 L249.79,83.21 L250.06,84.67 L250.33,86.14 L250.59,87.61 L250.84,89.08 L251.09,90.56 L251.34,92.04 L251.58,93.52 L251.81,95.00 L252.05,96.48 L252.28,97.96 L252.50,99.45 L252.73,100.94 L252.95,102.42 L253.17,103.91 L253.38,105.40 L253.60,106.89 L253.81,108.38 L254.03,109.87 L254.24,111.36 L254.45,112.86 L254.66,114.35 L254.88,115.84 L255.09,117.33 L255.30,118.82 L255.51,120.31 L255.72,121.80 L255.94,123.29 L256.15,124.78 L256.36,126.27 L256.57,127.76 L256.78,129.25 L256.99,130.74 L257.21,132.23 L257.42,133.72 L257.63,135.21 L257.84,136.70 L258.05,138.19 L258.26,139.68 L258.47,141.16 L258.68,142.65 L258.88,144.14 L259.09,145.63 L259.30,147.12 L259.51,148.61 L259.72,150.10 L259.92,151.59 L260.13,153.08 L260.34,154.57 L260.54,156.06 L260.75,157.55 L260.95,159.04 L261.16,160.53 L261.36,162.02 L261.57,163.51 L261.77,165.00 L261.97,166.49 L262.17,167.98 L262.38,169.47 L262.58,170.96 L262.78,172.45 L262.98,173.94 L263.17,175.43 L263.37,176.92 L263.57,178.41 L263.77,179.90 L263.96,181.39 L264.16,182.88 L264.35,184.37 L264.55,185.86 L264.74,187.36 L264.94,188.85 L265.13,190.34 L265.32,191.83 L265.51,193.32 L265.70,194.81 L265.90,196.31 L266.09,197.80 L266.28,199.29 L266.47,200.78 L266.66,202.28 L266.85,203.77 L267.04,205.26 L267.23,206.75 L267.41,208.25 L267.60,209.74 L267.79,211.23 L267.98,212.73 L268.17,214.22 L268.36,215.71 L268.54,217.20 L268.73,218.70 L268.92,220.19 L269.11,221.68 L269.30,223.18 L269.49,224.67 L269.67,226.16 L269.86,227.66 L270.05,229.15 L270.24,230.64 L270.43,232.13 L270.62,233.63 L270.80,235.12 L270.99,236.61 L271.18,238.11 L271.37,239.60 L271.56,241.09 L271.75,242.58 L271.94,244.08 L272.13,245.57 L272.33,247.06 L272.52,248.56 L272.71,250.05 L272.90,251.54 L273.10,253.03 L273.29,254.52 L273.48,256.02 L273.68,257.51 L273.87,259.00 L274.07,260.49 L274.26,261.98 L274.46,263.48 L274.66,264.97 L274.86,266.46 L275.06,267.95 L275.26,269.44 L275.46,270.93 L275.66,272.42 L275.86,273.91 L276.06,275.41 L276.27,276.90 L276.47,278.39 L276.68,279.88 L276.88,281.37 L277.09,282.86 L277.30,284.35 L277.51,285.84 L277.72,287.32 L277.93,288.81 L278.14,290.30 L278.35,291.79 L278.57,293.28 L278.79,294.77 L279.00,296.26 L279.22,297.74 L279.44,299.23 L279.67,300.72 L279.89,302.21 L280.12,303.69 L280.34,305.18 L280.58,306.66 L280.81,308.15 L281.04,309.63 L281.28,311.12 L281.52,312.60 L281.77,314.09 L282.01,315.57 L282.26,317.05 L282.52,318.53 L282.77,320.02 L283.03,321.50 L283.29,322.98 L283.56,324.46 L283.83,325.94 L284.10,327.42 L284.38,328.89 L284.66,330.37 L284.95,331.85 L285.24,333.32 L285.53,334.80 L285.83,336.27 L286.13,337.75 L286.44,339.22 L286.75,340.69 L287.07,342.17 L287.39,343.64 L287.72,345.11 L288.05,346.58 L288.39,348.04 L288.73,349.51 L289.09,350.97 L289.46,352.43 L289.84,353.88 L290.25,355.33 L290.67,356.77 L291.11,358.20 L291.57,359.63 L292.05,361.05 L292.55,362.46 L293.07,363.86 L293.61,365.26 L294.16,366.66 L294.73,368.05 L295.32,369.43 L295.92,370.82 L296.53,372.20 L297.15,373.57 L297.78,374.95 L298.41,376.32 L299.03,377.69 L299.66,379.06 L300.28,380.44 L300.89,381.81 L301.48,383.19 L302.07,384.56 L302.66,385.94 L303.24,387.32 L303.82,388.69 L304.42,390.07 L305.02,391.44 L305.63,392.81 L306.26,394.18 L306.92,395.54 L307.60,396.90 L308.31,398.26 L309.05,399.60 L309.84,400.91 L310.70,402.15 L311.64,403.32 L312.67,404.39 L313.79,405.35 L315.00,406.21 L316.26,407.00 L317.57,407.73 L318.90,408.44 L320.25,409.12 L321.62,409.78 L322.99,410.40 L324.39,411.00 L325.79,411.55 L327.21,412.07 L328.64,412.55 L330.08,412.98 L331.53,413.37 L332.99,413.70 L334.46,413.99 L335.94,414.22 L337.43,414.40 L338.92,414.54 L340.42,414.64 L341.92,414.71 L343.42,414.75 L344.93,414.76 L346.45,414.76 L347.96,414.74 L349.47,414.72 L350.98,414.69 L352.49,414.66 L354.00,414.64 L355.51,414.62 L357.01,414.63 L358.51,414.65 L360.00,414.70" fill="none" stroke="#800080" stroke-width="2.5" stroke-linejoin="round"/>
</g>
<rect x="135" y="413" width="5.5" height="1" fill="#dcdcd4"/>
<rect x="135" y="414" width="5.5" height="1" fill="#fbfbc8"/>
<rect x="140.5" y="413" width="200.5" height="2" fill="#edd9ed"/>
<rect x="341" y="413" width="164" height="2" fill="#fdfddc"/>
<g font-size="15.28"><text x="104.10" y="419.75" text-anchor="end">0.000</text><text x="104.10" y="369.75" text-anchor="end">0.001</text><text x="104.60" y="318.75" text-anchor="end">0.002</text><text x="104.10" y="268.75" text-anchor="end">0.003</text><text x="104.10" y="218.75" text-anchor="end">0.004</text><text x="104.10" y="168.75" text-anchor="end">0.005</text><text x="104.10" y="117.85" text-anchor="end">0.006</text><text x="104.10" y="67.75" text-anchor="end">0.007</text><text x="123.15" y="437.8" letter-spacing="-0.3">1800</text><text x="209.65" y="437.8" letter-spacing="-0.3">2000</text><text x="296.50" y="437.8" letter-spacing="-0.3">2200</text><text x="383.65" y="437.8" letter-spacing="-0.3">2400</text><text x="470.65" y="437.8" letter-spacing="-0.3">2600</text></g>
<text x="229.0" y="459" font-size="16.67">Simulated Performances</text>
<text transform="translate(57,263.9) rotate(-90)" font-size="16.67">Density</text>
<rect x="-20.3" y="24.5" width="29.6" height="10.7" fill="#bf80bf" stroke="#a040a0" stroke-width="1.2"/>
<text x="21.9" y="34.9" font-size="15.28">Soyaux-Angouleme Simulated Performances</text>
<rect x="357.6" y="24.5" width="29.6" height="10.7" fill="#ffff80" stroke="#707052" stroke-width="1.2"/>
<text x="400.3" y="34.9" font-size="15.28">Carcassonne Simulated Performances</text>
</svg>
</body></html>
